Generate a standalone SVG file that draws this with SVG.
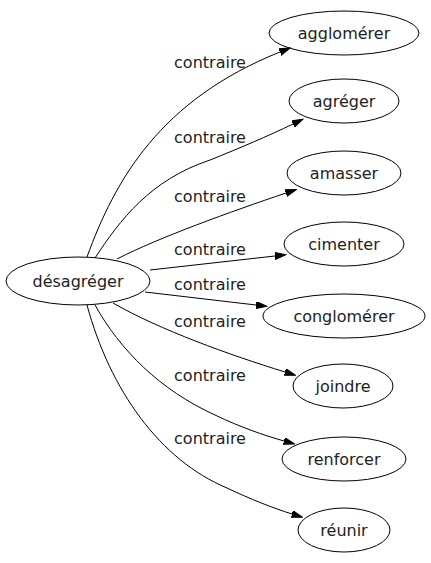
<svg xmlns="http://www.w3.org/2000/svg" width="431" height="563" viewBox="0 0 431 563">
<defs>
<style>
.node ellipse{fill:none;stroke:#000;stroke-width:1}
text{font-family:"DejaVu Sans",Verdana,sans-serif;font-size:16px;fill:#222;text-anchor:middle}
.edges path{fill:none;stroke:#000;stroke-width:1}
</style>
<marker id="arr" markerUnits="userSpaceOnUse" markerWidth="12" markerHeight="8" refX="0" refY="3.5" orient="auto">
<path d="M0,0 L11,3.5 L0,7 z" fill="#000" stroke="#000" stroke-width="1"/>
</marker>
</defs>
<rect width="431" height="563" fill="#fff"/>
<g class="edges">
<path d="M87,257 C115,180 160,100 280,52" marker-end="url(#arr)"/>
<path d="M95,258 C120,220 150,180 210,160 C240,148 268,136 293,124" marker-end="url(#arr)"/>
<path d="M117,259 C160,237 230,212 286,193" marker-end="url(#arr)"/>
<path d="M150,270 L275,256" marker-end="url(#arr)"/>
<path d="M145,292 L256,305" marker-end="url(#arr)"/>
<path d="M113,303 C160,330 230,355 285,372" marker-end="url(#arr)"/>
<path d="M95,305 C120,350 160,390 215,415 C240,427 263,435 284,441" marker-end="url(#arr)"/>
<path d="M87,305 C110,390 160,460 227,488 C250,499 273,508 292,514" marker-end="url(#arr)"/>
<text x="210" y="68">contraire</text>
<text x="210" y="143">contraire</text>
<text x="210" y="202">contraire</text>
<text x="210" y="255">contraire</text>
<text x="210" y="290">contraire</text>
<text x="210" y="327">contraire</text>
<text x="210" y="381">contraire</text>
<text x="210" y="444">contraire</text>
</g>
<g id="n0" class="node"><ellipse cx="78" cy="281" rx="72" ry="24"/><text x="78" y="287">désagréger</text></g>
<g id="n1" class="node"><ellipse cx="344" cy="33" rx="75" ry="22"/><text x="344" y="39">agglomérer</text></g>
<g id="n2" class="node"><ellipse cx="344" cy="101" rx="55" ry="22"/><text x="344" y="107">agréger</text></g>
<g id="n3" class="node"><ellipse cx="344" cy="173" rx="57" ry="22"/><text x="344" y="179">amasser</text></g>
<g id="n4" class="node"><ellipse cx="344" cy="244" rx="60" ry="22"/><text x="344" y="250">cimenter</text></g>
<g id="n5" class="node"><ellipse cx="344" cy="316" rx="81" ry="22"/><text x="344" y="322">conglomérer</text></g>
<g id="n6" class="node"><ellipse cx="343" cy="386" rx="50" ry="22"/><text x="343" y="392">joindre</text></g>
<g id="n7" class="node"><ellipse cx="344" cy="459" rx="62" ry="22"/><text x="344" y="465">renforcer</text></g>
<g id="n8" class="node"><ellipse cx="344" cy="530" rx="46" ry="22"/><text x="344" y="536">réunir</text></g>
</svg>
